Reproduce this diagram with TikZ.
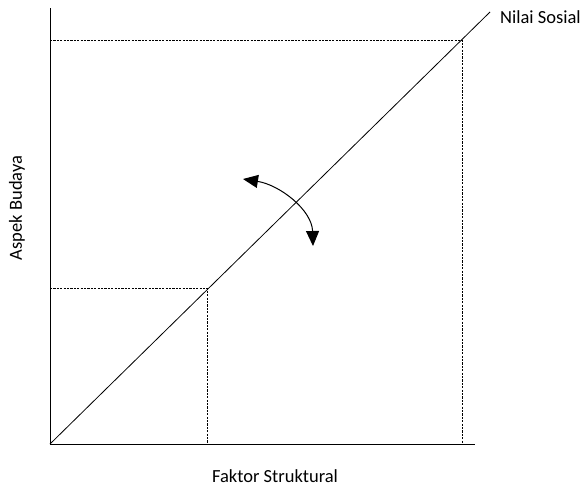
\documentclass[tikz,border=0pt]{standalone}
\usepackage{fontspec}
\setmainfont{Carlito}
\usetikzlibrary{arrows.meta}
\begin{document}
\begin{tikzpicture}[x=1pt,y=-1pt,
  axis/.style={line width=1pt},
  guide/.style={dashed,dash pattern=on 2.2pt off 1.2pt,line width=0.7pt},
  lbl/.style={font=\fontsize{18.5}{22}\selectfont,inner sep=0pt}]
\useasboundingbox (0,0) rectangle (583,488);
\coordinate (O) at (50,444);
\coordinate (Ytop) at (50,8);
\coordinate (Xend) at (475,444);
\coordinate (Dend) at (490,12);
\coordinate (P1) at (462,40);
\coordinate (P2) at (207,288);
\coordinate (Y1) at (50,40);
\coordinate (Y2) at (50,288);
\coordinate (X1) at (462,444);
\coordinate (X2) at (207,444);
\draw[axis] (Ytop) -- (O) -- (Xend);
\draw[line width=0.8pt] (O) -- (Dend);
\draw[guide] (Y1) -- (P1) -- (X1);
\draw[guide] (Y2) -- (P2) -- (X2);
\coordinate (A1) at (243,179);
\coordinate (A2) at (313,246);
\draw[line width=1pt,{Stealth[length=15pt,width=13pt,inset=0pt]}-{Stealth[length=15pt,width=13pt,inset=0pt]}] (A1) .. controls (280,185) and (312,210) .. (A2);
\node[lbl,anchor=west] (ns) at (500,17) {Nilai Sosial};
\node[lbl] (fs) at (275,476) {Faktor Struktural};
\node[lbl,rotate=90] (ab) at (17,208) {Aspek Budaya};
\end{tikzpicture}
\end{document}
